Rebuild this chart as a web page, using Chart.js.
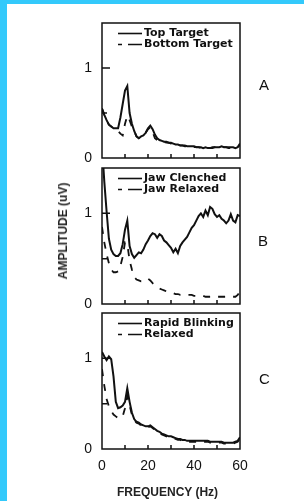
<!DOCTYPE html>
<html>
<head>
<meta charset="utf-8">
<script src="https://cdn.jsdelivr.net/npm/chart.js@4/dist/chart.umd.min.js"></script>
<style>
  body { margin: 0; background: #fff; }
  #page { position: relative; width: 304px; height: 501px; overflow: hidden; background: #fff; }
  .bar { position: absolute; background: #33c9fb; }
  canvas { position: absolute; left: 0; top: 0; }
  .txt { position: absolute; color: #111; font-family: "Liberation Sans", Arial, sans-serif; white-space: nowrap; }
</style>
</head>
<body>
<div id="page">
  <div class="bar" style="left:0;top:0;width:304px;height:4px"></div>
  <div class="bar" style="left:0;top:0;width:7px;height:501px"></div>
  <canvas id="chartA" width="304" height="501"></canvas>
  <canvas id="chartB" width="304" height="501"></canvas>
  <canvas id="chartC" width="304" height="501"></canvas>
  <div class="txt" style="left:259px;top:76px;font-size:15px">A</div>
  <div class="txt" style="left:258px;top:232px;font-size:15px">B</div>
  <div class="txt" style="left:259px;top:370px;font-size:15px">C</div>
  <div class="txt" style="left:63px;top:231px;font-size:12px;font-weight:bold;color:#222;transform:translate(-50%,-50%) rotate(-90deg)">AMPLITUDE (uV)</div>
  <div class="txt" style="left:117px;top:485px;font-size:12px;font-weight:bold;color:#222">FREQUENCY (Hz)</div>
</div>
<script>
// frequency axis (Hz)
const freq = [0,1,2,3,4,5,6,7,8,9,10,11,12,13,14,15,16,17,18,19,20,21,22,23,24,25,26,27,28,29,30,
  31,32,33,34,35,36,37,38,39,40,41,42,43,44,45,46,47,48,49,50,51,52,53,54,55,56,57,58,59,60];

// panel A
const topTarget = [0.55,0.48,0.42,0.37,0.35,0.33,0.33,0.33,0.45,0.60,
  0.75,0.80,0.50,0.38,0.30,0.24,0.22,0.24,0.25,0.28,
  0.33,0.36,0.32,0.26,0.22,0.20,0.19,0.18,0.18,0.17,
  0.17,0.16,0.15,0.15,0.14,0.14,0.14,0.13,0.13,0.13,
  0.13,0.12,0.12,0.12,0.11,0.12,0.11,0.11,0.12,0.12,
  0.12,0.12,0.13,0.12,0.12,0.12,0.12,0.12,0.11,0.12,
  0.16];
const bottomTarget = [0.55,0.48,0.42,0.37,0.35,0.33,0.32,0.30,0.27,0.25,
  0.38,0.47,0.42,0.35,0.30,0.24,0.22,0.24,0.25,0.28,
  0.32,0.34,0.29,0.22,0.20,0.19,0.18,0.18,0.17,0.17,
  0.16,0.16,0.15,0.15,0.14,0.14,0.13,0.13,0.13,0.12,
  0.12,0.12,0.12,0.11,0.11,0.11,0.11,0.11,0.11,0.12,
  0.12,0.12,0.12,0.12,0.12,0.11,0.11,0.11,0.11,0.12,
  0.15];

// panel B
const jawClenched = [1.75,1.35,1.02,0.72,0.60,0.55,0.53,0.53,0.56,0.66,
  0.82,0.92,0.64,0.55,0.51,0.54,0.57,0.56,0.60,0.66,
  0.70,0.75,0.78,0.77,0.73,0.77,0.75,0.70,0.68,0.65,
  0.62,0.57,0.61,0.56,0.64,0.68,0.71,0.74,0.79,0.84,
  0.87,0.92,0.97,1.00,0.96,1.03,0.98,1.07,1.05,0.99,
  0.96,0.98,0.94,0.92,0.89,0.92,0.99,0.92,0.90,0.98,
  0.97];
const jawRelaxed = [0.85,0.68,0.55,0.45,0.38,0.35,0.35,0.36,0.42,0.52,
  0.68,0.66,0.48,0.38,0.30,0.27,0.26,0.25,0.25,0.27,
  0.28,0.26,0.23,0.21,0.19,0.17,0.16,0.15,0.14,0.13,
  0.12,0.12,0.11,0.11,0.10,0.10,0.10,0.10,0.10,0.10,
  0.09,0.09,0.09,0.09,0.09,0.08,0.08,0.08,0.08,0.08,
  0.08,0.08,0.08,0.08,0.08,0.08,0.08,0.08,0.08,0.10,
  0.14];

// panel C
const rapidBlinking = [1.07,1.02,0.98,1.02,0.99,0.80,0.52,0.45,0.46,0.48,
  0.52,0.67,0.52,0.40,0.33,0.30,0.29,0.27,0.26,0.25,
  0.25,0.26,0.24,0.22,0.20,0.19,0.17,0.16,0.15,0.14,
  0.14,0.13,0.12,0.11,0.11,0.10,0.10,0.09,0.09,0.09,
  0.09,0.09,0.09,0.09,0.09,0.09,0.09,0.08,0.08,0.08,
  0.08,0.08,0.08,0.07,0.07,0.07,0.07,0.07,0.08,0.09,
  0.13];
const relaxedC = [0.88,0.70,0.55,0.47,0.42,0.38,0.36,0.34,0.34,0.36,
  0.45,0.58,0.48,0.38,0.32,0.29,0.28,0.26,0.25,0.24,
  0.24,0.25,0.23,0.21,0.19,0.18,0.16,0.15,0.14,0.13,
  0.13,0.12,0.11,0.10,0.10,0.09,0.09,0.08,0.08,0.08,
  0.08,0.08,0.08,0.08,0.08,0.08,0.08,0.07,0.07,0.07,
  0.07,0.07,0.07,0.06,0.06,0.06,0.06,0.06,0.07,0.08,
  0.12];

// ticks
const yLabelTicks = [0, 1];
const yMarkTicks = [0.5, 1];
const xMarkTicks = [10, 20, 30, 40, 50];
const xLabelTicks = [0, 20, 40, 60];

const ink = '#111';

// draws the box, inward tick marks and the little legend inside each panel
const framePlugin = {
  id: 'frame',
  afterDatasetsDraw(chart) {
    const { ctx, chartArea: a } = chart;
    const x = chart.scales.x, y = chart.scales.y;
    ctx.save();
    ctx.strokeStyle = ink;
    ctx.lineWidth = 1.5;
    ctx.strokeRect(a.left, a.top, a.right - a.left, a.bottom - a.top);
    ctx.beginPath();
    xMarkTicks.forEach(t => {
      const px = x.getPixelForValue(t);
      ctx.moveTo(px, a.bottom);
      ctx.lineTo(px, a.bottom - 4);
    });
    yMarkTicks.forEach(t => {
      const py = y.getPixelForValue(t);
      ctx.moveTo(a.left, py);
      ctx.lineTo(a.left + (t === 1 ? 8 : 5), py);
    });
    ctx.stroke();

    ctx.font = 'bold 11px "DejaVu Sans"';
    ctx.fillStyle = ink;
    ctx.textBaseline = 'middle';
    ctx.lineWidth = 1.6;
    chart.data.datasets.forEach((ds, i) => {
      const ly = a.top + 10.5 + i * 11;
      ctx.setLineDash(ds.borderDash.length ? [4, 6, 14, 60] : []);
      ctx.beginPath();
      ctx.moveTo(a.left + 16, ly);
      ctx.lineTo(a.left + 40, ly);
      ctx.stroke();
      ctx.setLineDash([]);
      ctx.fillText(ds.label, a.left + 42, ly);
    });
    ctx.restore();
  }
};

function makePanel(id, top, bottom, showX, solidLabel, solid, dashLabel, dashed) {
  const pts = arr => freq.map((f, i) => ({ x: f, y: arr[i] }));
  return new Chart(document.getElementById(id), {
    type: 'line',
    data: {
      datasets: [{
        label: solidLabel,
        data: pts(solid),
        borderColor: ink,
        borderWidth: 2,
        borderDash: [],
        pointRadius: 0,
        tension: 0
      }, {
        label: dashLabel,
        data: pts(dashed),
        borderColor: ink,
        borderWidth: 1.8,
        borderDash: [7, 8],
        pointRadius: 0,
        tension: 0
      }]
    },
    options: {
      responsive: false,
      animation: false,
      layout: { padding: { left: 52, right: 64, top: top, bottom: bottom } },
      plugins: { legend: { display: false }, tooltip: { enabled: false } },
      scales: {
        x: {
          type: 'linear',
          display: showX,
          min: 0,
          max: 60,
          grid: { display: false, drawTicks: false },
          border: { display: false },
          afterBuildTicks: s => { s.ticks = xLabelTicks.map(v => ({ value: v })); },
          afterFit: s => {
            if (showX) s.height = 52;
            s.paddingLeft = 0;
            s.paddingRight = 0;
          },
          ticks: {
            padding: 9,
            color: ink,
            maxRotation: 0,
            font: { family: 'Liberation Sans', size: 14 }
          }
        },
        y: {
          min: 0,
          max: 1.5,
          grid: { display: false, drawTicks: false },
          border: { display: false },
          afterBuildTicks: s => { s.ticks = yLabelTicks.map(v => ({ value: v })); },
          afterFit: s => { s.width = 50; s.paddingTop = 0; s.paddingBottom = 0; },
          ticks: {
            padding: 10,
            color: ink,
            font: { family: 'Liberation Sans', size: 14 }
          }
        }
      }
    },
    plugins: [framePlugin]
  });
}

makePanel('chartA', 23, 343, false, 'Top Target', topTarget, 'Bottom Target', bottomTarget);
makePanel('chartB', 168, 197, false, 'Jaw Clenched', jawClenched, 'Jaw Relaxed', jawRelaxed);
makePanel('chartC', 313, 0, true, 'Rapid Blinking', rapidBlinking, 'Relaxed', relaxedC);
</script>
</body>
</html>
